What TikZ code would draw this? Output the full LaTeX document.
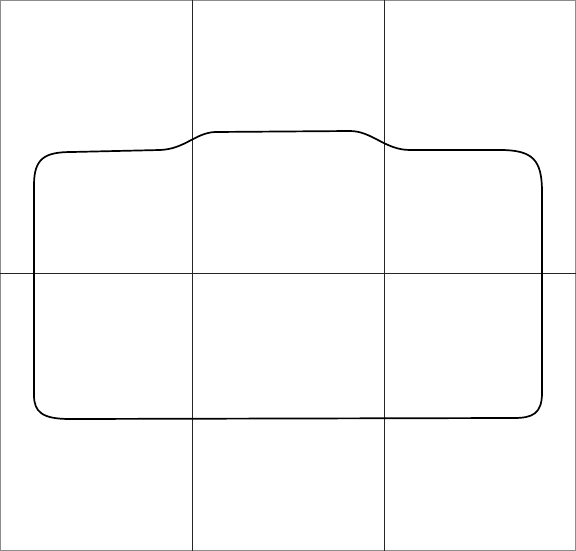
\documentclass[tikz,border=0pt]{standalone}
\begin{document}
\begin{tikzpicture}[x=1pt,y=-1pt,
  frame/.style={draw=black!45,line width=1.2pt},
  gridline/.style={draw=black!85,line width=1pt},
  outline/.style={draw=black,line width=1.7pt,line join=round}]
\useasboundingbox (0,0) rectangle (576,551);
\draw[frame] (0.6,0.6) rectangle (575.4,550.4);
\draw[gridline] (192,0) -- (192,551);
\draw[gridline] (384,0) -- (384,551);
\draw[gridline] (0,273) -- (576,273);
\draw[outline] (34,273) -- (34,185)
  .. controls (34,158) and (45,152) .. (72,152)
  -- (160,150)
  .. controls (185,149) and (195,133) .. (215,132)
  -- (350,131)
  .. controls (372,131) and (385,150) .. (410,150)
  -- (500,150)
  .. controls (533,150) and (542,160) .. (542,192)
  -- (542,393)
  .. controls (542,414) and (532,418) .. (514,418)
  -- (70,419)
  .. controls (42,419) and (34,412) .. (34,395)
  -- cycle;
\end{tikzpicture}
\end{document}
